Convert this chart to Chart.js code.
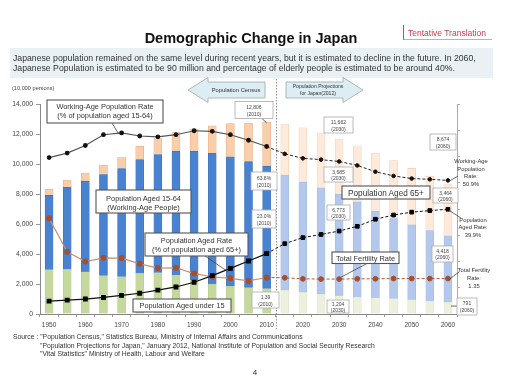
<!DOCTYPE html>
<html><head><meta charset="utf-8">
<script src="https://cdn.jsdelivr.net/npm/chart.js@4/dist/chart.umd.min.js"></script>
<style>
html,body{margin:0;padding:0;background:#fff;}
#wrap{position:relative;width:510px;height:383px;overflow:hidden;font-family:"Liberation Sans",Arial,sans-serif;}
#c{position:absolute;left:0;top:0;}
#ov{position:absolute;left:0;top:0;pointer-events:none;}
</style></head>
<body>
<div id="wrap">
<canvas id="c" width="510" height="383"></canvas>
<svg id="ov" width="510" height="383" xmlns="http://www.w3.org/2000/svg" font-family="Liberation Sans, Arial, sans-serif">
  <!-- title -->
  <text x="251" y="43" text-anchor="middle" font-size="14.5" font-weight="bold" fill="#111">Demographic Change in Japan</text>
  <!-- tentative translation -->
  <line x1="403.5" y1="25" x2="403.5" y2="40" stroke="#c0505a" stroke-width="1"/>
  <line x1="403.5" y1="39.5" x2="492" y2="39.5" stroke="#d88890" stroke-width="0.8"/>
  <text x="408" y="35.5" font-size="8.5" fill="#c0404e">Tentative Translation</text>
  <!-- subtitle band -->
  <rect x="10" y="48" width="483" height="30" fill="#e9f1f4"/>
  <text x="13" y="61" font-size="8.7" fill="#333">Japanese population remained on the same level during recent years, but it is estimated to decline in the future.  In 2060,</text>
  <text x="13" y="71" font-size="8.7" fill="#333">Japanese Population is estimated to be 90 million and percentage of elderly people is estimated to be around 40%.</text>
  <text x="12" y="90" font-size="5.6" fill="#444">(10,000 persons)</text>
  <!-- arrows -->
  <path d="M188,90 L208,77.5 L208,82 L265,82 L265,98 L208,98 L208,102.5 Z" fill="#dcedf3" stroke="#9aa" stroke-width="0.8"/>
  <text x="236" y="92" text-anchor="middle" font-size="5.8" fill="#333">Population Census</text>
  <path d="M286,82 L343,82 L343,77.5 L363,90 L343,102.5 L343,98 L286,98 Z" fill="#dcedf3" stroke="#9aa" stroke-width="0.8"/>
  <text x="318" y="88" text-anchor="middle" font-size="5.1" fill="#333">Population Projections</text>
  <text x="318" y="95" text-anchor="middle" font-size="5.1" fill="#333">for Japan(2012)</text>
  <!-- main callouts -->
  <g stroke="#555" stroke-width="1.1" fill="#fff">
    <rect x="47" y="100" width="116" height="23"/>
    <rect x="96" y="190" width="95" height="23"/>
    <rect x="145" y="233" width="103" height="23"/>
    <rect x="133" y="299" width="98" height="13"/>
    <rect x="342" y="186" width="88" height="13"/>
    <rect x="332" y="252" width="67" height="11.5"/>
  </g>
  <g font-size="7.4" fill="#333" text-anchor="middle">
    <text x="105" y="108.5">Working-Age Population Rate</text>
    <text x="105" y="117.5">(% of population aged 15-64)</text>
    <text x="143.5" y="200.5">Population Aged 15-64</text>
    <text x="143.5" y="209.8">(Working-Age People)</text>
    <text x="196.5" y="243">Population Aged Rate</text>
    <text x="196.5" y="252.3">(% of population aged 65+)</text>
    <text x="182" y="308">Population Aged under 15</text>
    <text x="386" y="195.5" font-size="8.2">Population Aged 65+</text>
    <text x="365.5" y="260.6">Total Fertility Rate</text>
  </g>
  <!-- small value boxes -->
  <g stroke="#aaa" stroke-width="0.8" fill="#fff">
    <rect x="235" y="101.5" width="38" height="17"/>
    <rect x="251" y="172" width="26" height="18"/>
    <rect x="252" y="210" width="24" height="18"/>
    <rect x="252" y="292" width="27" height="16"/>
    <rect x="324" y="117" width="29" height="16"/>
    <rect x="324" y="167" width="29" height="15"/>
    <rect x="327" y="205" width="23" height="15"/>
    <rect x="327" y="300" width="22" height="13"/>
    <rect x="430" y="134" width="26" height="16"/>
    <rect x="433" y="188" width="25" height="15"/>
    <rect x="432" y="246" width="21" height="16"/>
    <rect x="457" y="298" width="20" height="17"/>
  </g>
  <g font-size="5" fill="#444" text-anchor="middle">
    <text x="254" y="109">12,806</text><text x="254" y="115.5">(2010)</text>
    <text x="264" y="180">63.8%</text><text x="264" y="186.5">(2010)</text>
    <text x="264" y="218">23.0%</text><text x="264" y="224.5">(2010)</text>
    <text x="265.5" y="299">1.39</text><text x="265.5" y="305.5">(2010)</text>
    <text x="338.5" y="124">11,662</text><text x="338.5" y="130.5">(2030)</text>
    <text x="338.5" y="173.5">3,685</text><text x="338.5" y="180">(2030)</text>
    <text x="338.5" y="211.5">6,773</text><text x="338.5" y="218">(2030)</text>
    <text x="338" y="305.5">1,204</text><text x="338" y="311.5">(2030)</text>
    <text x="443" y="141">8,674</text><text x="443" y="147.5">(2060)</text>
    <text x="445.5" y="194.5">3,464</text><text x="445.5" y="201">(2060)</text>
    <text x="442.5" y="252.5">4,418</text><text x="442.5" y="259">(2060)</text>
    <text x="467" y="305">791</text><text x="467" y="311.5">(2060)</text>
  </g>
  <!-- right side labels -->
  <g font-size="5.8" fill="#333" text-anchor="middle">
    <text x="471" y="163">Working-Age</text>
    <text x="471" y="170.5">Population</text>
    <text x="471" y="178">Rate:</text>
    <text x="471" y="185.5">50.9%</text>
    <text x="473" y="221.5">Population</text>
    <text x="473" y="229">Aged Rate:</text>
    <text x="473" y="236.5">39.9%</text>
    <text x="474" y="271.5">Total Fertility</text>
    <text x="474" y="279.5">Rate:</text>
    <text x="474" y="287.5">1.35</text>
  </g>
  <!-- source -->
  <g font-size="6.8" fill="#333">
    <text x="13" y="339">Source : "Population Census," Statistics Bureau, Ministry of Internal Affairs and Communications</text>
    <text x="40" y="347.5">"Population Projections for Japan," January 2012, National Institute of Population and Social Security Research</text>
    <text x="40" y="356">"Vital Statistics" Ministry of Health, Labour and Welfare</text>
  </g>
  <text x="255" y="375" font-size="8" fill="#333" text-anchor="middle">4</text>
</svg>
</div>
<script>
// ---- data (10,000 persons / % / births per woman) ----
const years = ['1950','1955','1960','1965','1970','1975','1980','1985','1990','1995','2000','2005','2010',
               '2015','2020','2025','2030','2035','2040','2045','2050','2055','2060'];
const under15   = [2943,2980,2807,2553,2482,2722,2751,2603,2249,2001,1847,1752,1684,
                   1583,1457,1324,1204,1129,1073,1012,939,861,791];
const age15to64 = [4966,5473,6047,6744,7212,7581,7883,8251,8590,8716,8638,8409,8173,
                   7682,7341,7085,6773,6343,5787,5353,5001,4706,4418];
const age65plus = [411,475,540,624,739,887,1065,1247,1489,1826,2204,2567,2948,
                   3395,3612,3657,3685,3741,3868,3856,3768,3626,3464];
const workingAgeRate = [59.6,61.3,64.2,68.3,69.0,67.8,67.5,68.3,69.8,69.6,68.3,66.2,63.8,
                        61.0,59.3,58.8,58.1,56.6,54.2,52.6,51.6,51.3,50.9];
const agedRate = [4.9,5.3,5.7,6.3,7.1,7.9,9.1,10.3,12.1,14.6,17.4,20.2,23.0,
                  26.8,29.1,30.3,31.6,33.4,36.1,37.7,38.8,39.4,39.9];
const fertilityRate = [3.65,2.37,2.00,2.14,2.13,1.91,1.75,1.76,1.54,1.42,1.36,1.26,1.39,
                       1.38,1.34,1.33,1.33,1.34,1.34,1.35,1.35,1.35,1.35];
const yTicks = [0,2000,4000,6000,8000,10000,12000,14000];
const lastCensusIndex = 12; // 2010

const hist = a => a.map((v,i)=> i<=lastCensusIndex ? v : null);
const proj = a => a.map((v,i)=> i>=lastCensusIndex ? v : null);
const split = (h,p) => years.map((_,i)=> i<=lastCensusIndex ? h : p);
const projRadius = r => years.map((_,i)=> i<=lastCensusIndex ? 0 : r);

const FONT = '"Liberation Sans", Arial, sans-serif';

const guides = {
  id:'guides',
  afterDatasetsDraw(chart){
    const {ctx, scales:{x,y,yp,yt}} = chart;
    ctx.save();
    const xd = Math.round((x.getPixelForValue(lastCensusIndex)+x.getPixelForValue(lastCensusIndex+1))/2)+0.5;
    ctx.strokeStyle='#777'; ctx.lineWidth=0.8; ctx.setLineDash([1.5,1.5]);
    ctx.beginPath(); ctx.moveTo(xd,79); ctx.lineTo(xd,329); ctx.stroke();
    ctx.setLineDash([]);
    ctx.strokeStyle='#444'; ctx.lineWidth=0.8;
    const line=(x1,y1,x2,y2)=>{ctx.beginPath();ctx.moveTo(x1,y1);ctx.lineTo(x2,y2);ctx.stroke();};
    const last = years.length-1;
    const total2010 = under15[lastCensusIndex]+age15to64[lastCensusIndex]+age65plus[lastCensusIndex];
    line(112,123, x.getPixelForValue(4)-3, yp.getPixelForValue(workingAgeRate[4])+1);
    line(262,118.5, x.getPixelForValue(lastCensusIndex), y.getPixelForValue(total2010)+1);
    line(205,256, x.getPixelForValue(10)-3, yp.getPixelForValue(agedRate[10])+3);
    line(367,263.5, x.getPixelForValue(16)+2, yt.getPixelForValue(fertilityRate[16])-2);
    line(458,176, x.getPixelForValue(last)+1, yp.getPixelForValue(workingAgeRate[last])+1);
    line(461,218, x.getPixelForValue(last)+1, yp.getPixelForValue(agedRate[last])+1);
    line(459,272, x.getPixelForValue(last)+1, yt.getPixelForValue(fertilityRate[last])+1);
    line(457,306, x.getPixelForValue(last)+3, y.getPixelForValue(under15[last]/2)-2);
    ctx.restore();
  }
};

new Chart(document.getElementById('c'), {
  type:'bar',
  data:{
    labels: years,
    datasets:[
      {label:'Population Aged under 15', data:under15, stack:'p', yAxisID:'y', order:10,
       backgroundColor: split('#c5d89d','#ebf1dd'), borderColor: split('#b5c98a','#d8e2c4'), borderWidth:0.6, barThickness:8},
      {label:'Population Aged 15-64', data:age15to64, stack:'p', yAxisID:'y', order:10,
       backgroundColor: split('#4a82d2','#b3c8ec'), borderColor: split('#3a6fb8','#9fb8e0'), borderWidth:0.6, barThickness:8},
      {label:'Population Aged 65+', data:age65plus, stack:'p', yAxisID:'y', order:10,
       backgroundColor: split('#f9cfab','#fdeadb'), borderColor: split('#e8ab7e','#f3cdb0'), borderWidth:0.6, barThickness:8},

      {type:'line', label:'Working-Age Population Rate', data:hist(workingAgeRate), yAxisID:'yp', order:1,
       borderColor:'#555', borderWidth:1.2, pointRadius:1.8, pointBackgroundColor:'#111', pointBorderColor:'#111', tension:0},
      {type:'line', label:'Working-Age Population Rate (projection)', data:proj(workingAgeRate), yAxisID:'yp', order:1,
       borderColor:'#222', borderWidth:1, borderDash:[3,2], pointRadius:projRadius(1.8), pointBackgroundColor:'#111', pointBorderColor:'#111', tension:0},

      {type:'line', label:'Population Aged Rate', data:hist(agedRate), yAxisID:'yp', order:1,
       borderColor:'#111', borderWidth:1.2, pointStyle:'rect', pointRadius:2.6, pointBackgroundColor:'#000', pointBorderColor:'#000', tension:0},
      {type:'line', label:'Population Aged Rate (projection)', data:proj(agedRate), yAxisID:'yp', order:1,
       borderColor:'#111', borderWidth:1, borderDash:[3,2], pointStyle:'rect', pointRadius:projRadius(2.6), pointBackgroundColor:'#000', pointBorderColor:'#000', tension:0},

      {type:'line', label:'Total Fertility Rate', data:hist(fertilityRate), yAxisID:'yt', order:1,
       borderColor:'#c9906f', borderWidth:1.2, pointRadius:2.4, pointBackgroundColor:'#a4502c', pointBorderColor:'#a4502c', tension:0},
      {type:'line', label:'Total Fertility Rate (projection)', data:proj(fertilityRate), yAxisID:'yt', order:1,
       borderColor:'#b8582f', borderWidth:1, borderDash:[3,2], pointRadius:projRadius(2.4), pointBackgroundColor:'#a4502c', pointBorderColor:'#a4502c', tension:0}
    ]
  },
  options:{
    responsive:false, animation:false,
    layout:{padding:{left:0, right:49, top:104, bottom:49}},
    plugins:{legend:{display:false}, tooltip:{enabled:false}},
    scales:{
      x:{
        grid:{drawOnChartArea:false, drawTicks:true, tickLength:3, color:'#999'},
        border:{color:'#888'},
        ticks:{autoSkip:false, maxRotation:0, padding:4, color:'#444', font:{size:6.5, family:FONT},
               callback:function(v){ const l=this.getLabelForValue(v); return (+l)%10===0 ? l : ''; }},
        afterFit(s){ s.height=20; }
      },
      y:{
        stacked:true, min:0, max:14000,
        grid:{drawOnChartArea:false, tickLength:4, color:'#999'},
        border:{color:'#888'},
        afterBuildTicks(s){ s.ticks = yTicks.map(v=>({value:v})); },
        ticks:{padding:3, color:'#444', font:{size:6.8, family:FONT}, callback:v=>v.toLocaleString('en-US')},
        afterFit(s){ s.width=40; }
      },
      yp:{
        position:'right', min:0, max:80,
        grid:{drawOnChartArea:false, tickLength:3, color:'#aaa'},
        border:{color:'#aaa'},
        ticks:{display:false, stepSize:10},
        afterFit(s){ s.width=4; }
      },
      yt:{display:false, min:0, max:8}
    }
  },
  plugins:[guides]
});
</script>
</body></html>
